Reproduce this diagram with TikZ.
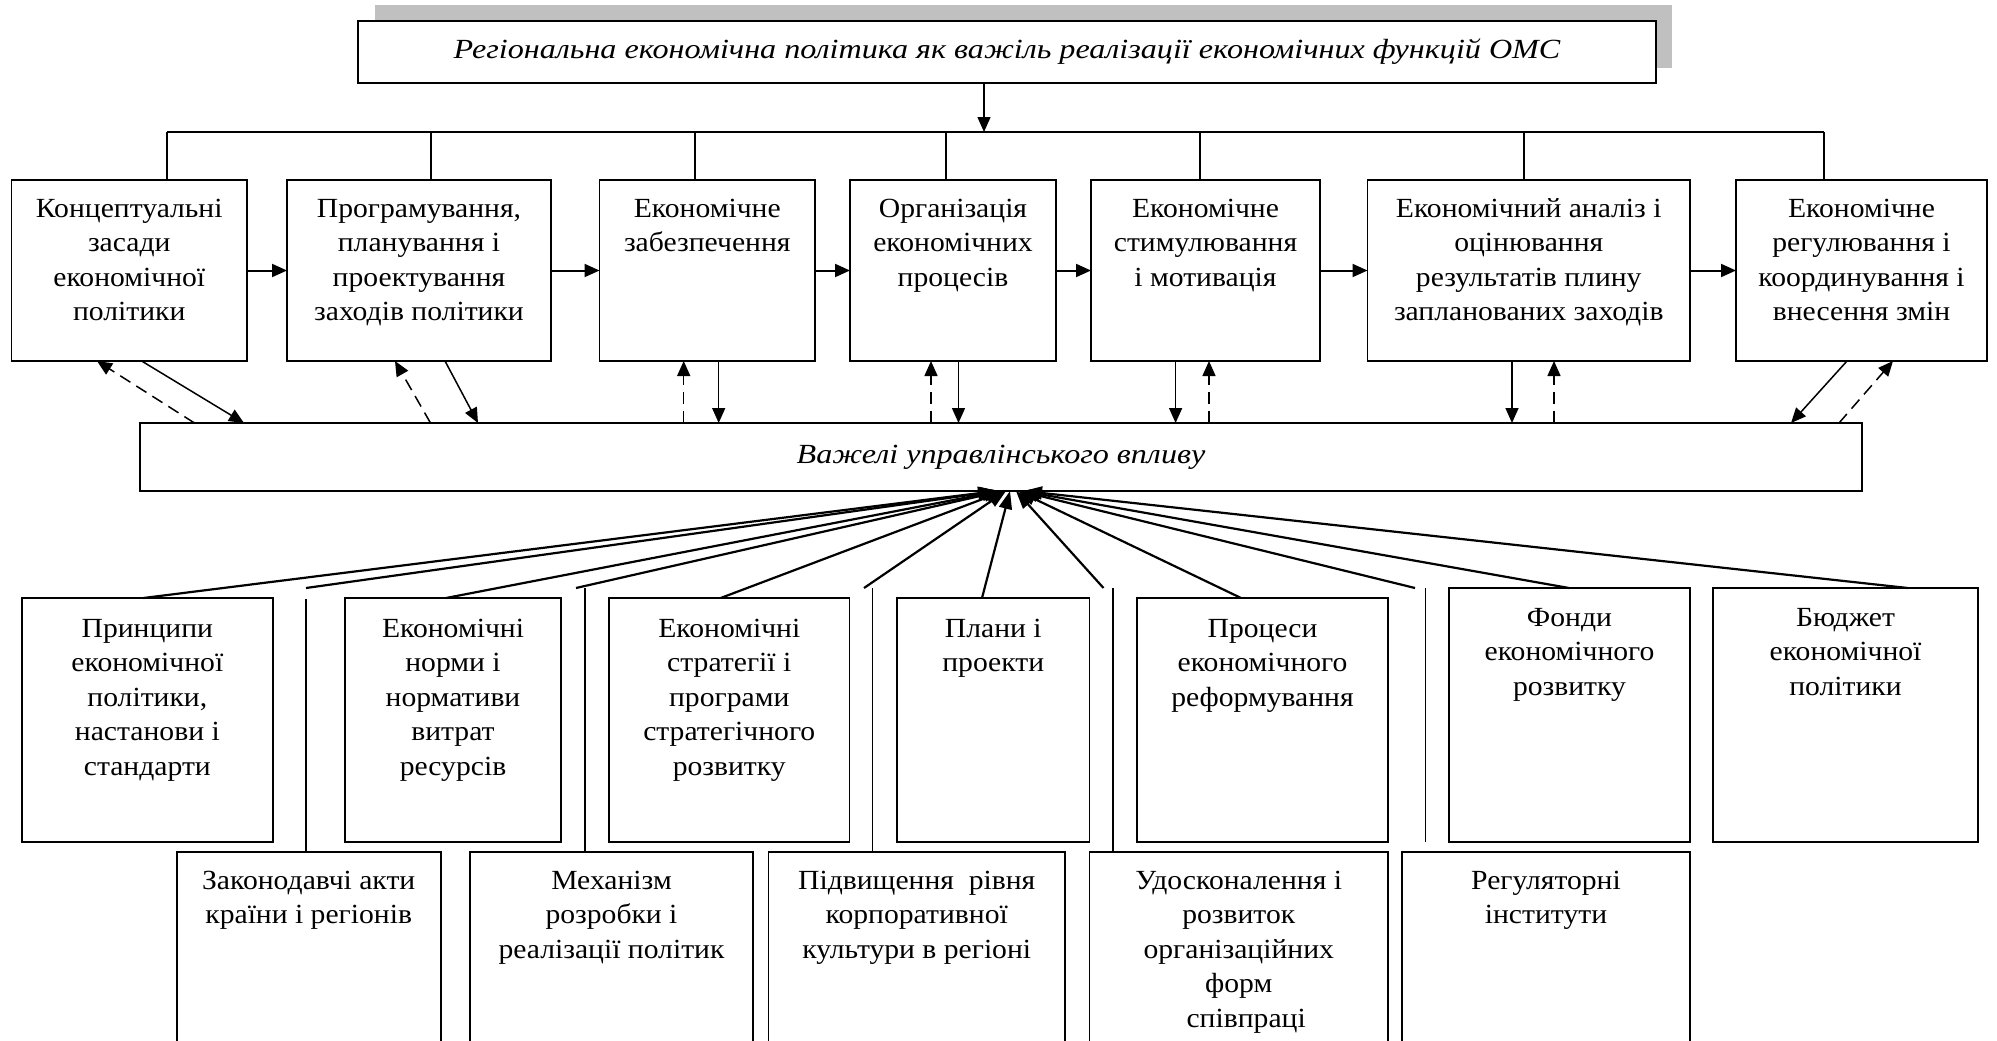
\documentclass[tikz,border=0pt]{standalone}
\usepackage{fontspec}
\setmainfont{Liberation Serif}[FakeStretch=1.07]
\newfontfamily\slantfont{Liberation Serif}[FakeStretch=1.16]
\usetikzlibrary{arrows.meta}

\definecolor{shadowgray}{RGB}{192,192,192}
\newcommand{\boxfont}{\fontsize{27.7}{34.5}\selectfont}
\newcommand{\celltext}[1]{\begin{tabular}[t]{@{}c@{}}#1\end{tabular}}

\tikzset{
  box/.style={draw, line width=1.6pt, inner sep=0pt, outer sep=0pt, anchor=north west, fill=white},
  txt/.style={anchor=base, inner sep=0pt, font=\boxfont},
  itxt/.style={font=\boxfont\slantfont\itshape},
  link/.style={line width=1.2pt},
  tip/.style={-{Triangle[length=15pt,width=13pt]}},
  arr/.style={line width=1.5pt, tip},
  darr/.style={line width=1.5pt, dash pattern=on 12pt off 7pt, tip},
  harr/.style={line width=2pt, tip},
  ray/.style={line width=2.2pt, -{Triangle[length=18pt,width=13pt]}},
}

\begin{document}
\begin{tikzpicture}[x=1pt, y=-1pt]
\useasboundingbox (0,0) rectangle (1997,1041);
\clip (0,0) rectangle (1997,1041);

% ---------- title with offset shadow ----------
\fill[shadowgray] (375,5) rectangle (1672,68);
\node[box, itxt, minimum width=1298pt, minimum height=62pt] (title) at (358,21)
  {Регіональна економічна політика як важіль реалізації економічних функцій ОМС};

% ---------- distribution bus ----------
\coordinate (busL) at (167,132);
\coordinate (busR) at (1824,132);
\coordinate (busT) at (984,132);
\draw[link] (busL) -- (busR);
\draw[arr] (title.south -| busT) -- (busT);

% ---------- row 1: functions ----------
\node[box, minimum width=235.5pt, minimum height=181pt] (b1) at (11.5,180) {};
\node[box, minimum width=264pt,   minimum height=181pt] (b2) at (287,180) {};
\node[box, minimum width=215.5pt, minimum height=181pt] (b3) at (599.5,180) {};
\node[box, minimum width=206pt,   minimum height=181pt] (b4) at (850,180) {};
\node[box, minimum width=229pt,   minimum height=181pt] (b5) at (1091,180) {};
\node[box, minimum width=322.5pt, minimum height=181pt] (b6) at (1367.5,180) {};
\node[box, minimum width=251pt,   minimum height=181pt] (b7) at (1736,180) {};

\node[txt] (b1t) at ([yshift=-37pt]b1.north) {\celltext{Концептуальні\\засади\\економічної\\політики}};
\node[txt] (b2t) at ([yshift=-37pt]b2.north) {\celltext{Програмування,\\планування і\\проектування\\заходів політики}};
\node[txt] (b3t) at ([yshift=-37pt]b3.north) {\celltext{Економічне\\забезпечення}};
\node[txt] (b4t) at ([yshift=-37pt]b4.north) {\celltext{Організація\\економічних\\процесів}};
\node[txt] (b5t) at ([yshift=-37pt]b5.north) {\celltext{Економічне\\стимулювання\\і мотивація}};
\node[txt] (b6t) at ([yshift=-37pt]b6.north) {\celltext{Економічний аналіз і\\оцінювання\\результатів плину\\запланованих заходів}};
\node[txt] (b7t) at ([yshift=-37pt]b7.north) {\celltext{Економічне\\регулювання і\\координування і\\внесення змін}};

% stubs from the bus
\foreach \n/\sx in {b1/167, b2/431, b3/695, b4/946, b5/1200, b6/1524, b7/1824}{
  \coordinate (s-\n) at (\sx,132);
  \draw[link] (s-\n) -- (s-\n |- \n.north);
}

% sequence arrows
\draw[harr] (b1.east) -- (b2.west);
\draw[harr] (b2.east) -- (b3.west);
\draw[harr] (b3.east) -- (b4.west);
\draw[harr] (b4.east) -- (b5.west);
\draw[harr] (b5.east) -- (b6.west);
\draw[harr] (b6.east) -- (b7.west);

% ---------- levers ----------
\node[box, itxt, minimum width=1722pt, minimum height=68pt] (lev) at (140,423)
  {Важелі управлінського впливу};

% links between functions and levers
\draw[darr] ([xshift=54.5pt]lev.north west) -- ([xshift=85.5pt]b1.south west);
\draw[arr]  ([xshift=130.1pt]b1.south west) -- ([xshift=104pt]lev.north west);
\draw[darr] ([xshift=290.5pt]lev.north west) -- ([xshift=108pt]b2.south west);
\draw[arr]  ([xshift=158pt]b2.south west) -- ([xshift=338pt]lev.north west);

\coordinate (d3) at ([xshift=84.2pt]b3.south west);
\coordinate (u3) at ([xshift=119.2pt]b3.south west);
\draw[darr] (d3 |- lev.north) -- (d3);
\draw[arr]  (u3) -- (u3 |- lev.north);

\coordinate (d4) at ([xshift=81pt]b4.south west);
\coordinate (u4) at ([xshift=108.5pt]b4.south west);
\draw[darr] (d4 |- lev.north) -- (d4);
\draw[arr]  (u4) -- (u4 |- lev.north);

\coordinate (u5) at ([xshift=84.6pt]b5.south west);
\coordinate (d5) at ([xshift=118pt]b5.south west);
\draw[arr]  (u5) -- (u5 |- lev.north);
\draw[darr] (d5 |- lev.north) -- (d5);

\coordinate (u6) at ([xshift=144.5pt]b6.south west);
\coordinate (d6) at ([xshift=186.5pt]b6.south west);
\draw[arr]  (u6) -- (u6 |- lev.north);
\draw[darr] (d6 |- lev.north) -- (d6);

\draw[arr]  ([xshift=111pt]b7.south west) -- ([xshift=1651pt]lev.north west);
\draw[darr] ([xshift=1699pt]lev.north west) -- ([xshift=157pt]b7.south west);

% ---------- row 2: instruments ----------
\node[box, minimum width=251.3pt, minimum height=244pt] (p1) at (21.7,598) {};
\node[box, minimum width=216pt,   minimum height=244pt] (p2) at (345,598) {};
\node[box, minimum width=240.5pt, minimum height=244pt] (p3) at (609,598) {};
\node[box, minimum width=192.5pt, minimum height=244pt] (p4) at (897,598) {};
\node[box, minimum width=251pt,   minimum height=244pt] (p5) at (1137,598) {};
\node[box, minimum width=241pt,   minimum height=254pt] (p6) at (1449,588) {};
\node[box, minimum width=265pt,   minimum height=254pt] (p7) at (1713,588) {};

\node[txt] (p1t) at ([yshift=-39pt]p1.north) {\celltext{Принципи\\економічної\\політики,\\настанови і\\стандарти}};
\node[txt] (p2t) at ([yshift=-39pt]p2.north) {\celltext{Економічні\\норми і\\нормативи\\витрат\\ресурсів}};
\node[txt] (p3t) at ([yshift=-39pt]p3.north) {\celltext{Економічні\\стратегії і\\програми\\стратегічного\\розвитку}};
\node[txt] (p4t) at ([yshift=-39pt]p4.north) {\celltext{Плани і\\проекти}};
\node[txt] (p5t) at ([yshift=-39pt]p5.north) {\celltext{Процеси\\економічного\\реформування}};
\node[txt] (p6t) at ([yshift=-38pt]p6.north) {\celltext{Фонди\\економічного\\розвитку}};
\node[txt] (p7t) at ([yshift=-38pt]p7.north) {\celltext{Бюджет\\економічної\\політики}};

% ---------- row 3: instruments (lower) ----------
\node[box, minimum width=264pt,   minimum height=230pt] (q1) at (176.7,852) {};
\node[box, minimum width=283pt,   minimum height=230pt] (q2) at (470,852) {};
\node[box, minimum width=296.5pt, minimum height=230pt] (q3) at (768.5,852) {};
\node[box, minimum width=298.5pt, minimum height=230pt] (q4) at (1089.5,852) {};
\node[box, minimum width=288pt,   minimum height=230pt] (q5) at (1402,852) {};

\node[txt] (q1t) at ([yshift=-37pt]q1.north) {\celltext{Законодавчі акти\\країни і регіонів}};
\node[txt] (q2t) at ([yshift=-37pt]q2.north) {\celltext{Механізм\\розробки і\\реалізації політик}};
\node[txt] (q3t) at ([yshift=-37pt]q3.north) {\celltext{Підвищення\ \ рівня\\корпоративної\\культури в регіоні}};
\node[txt] (q4t) at ([yshift=-37pt]q4.north) {\celltext{Удосконалення і\\розвиток\\організаційних\\форм\\\ \ співпраці}};
\node[txt] (q5t) at ([yshift=-37pt]q5.north) {\celltext{Регуляторні\\інститути}};

% risers of the lower row
\coordinate (j1) at (306,599);    \coordinate (k1) at (306,588);
\coordinate (j2) at (585,588);    \coordinate (k2) at (576,588);
\coordinate (j3) at (872.5,588);  \coordinate (k3) at (864,588);
\coordinate (j4) at (1113,588);   \coordinate (k4) at (1103.5,588);
\coordinate (j5) at (1425.6,588); \coordinate (k5) at (1415,588);
\draw[link] (j1 |- q1.north) -- (j1);
\draw[link] (j2 |- q2.north) -- (j2);
\draw[link] (j3 |- q3.north) -- (j3);
\draw[link] (j4 |- q4.north) -- (j4);
\draw[link] ([yshift=10pt]j5 |- q5.north) -- (j5);

% rays converging on the levers
\draw[ray] ([xshift=121.8pt]p1.north west) -- ([xshift=856pt]lev.south west);
\draw[ray] (k1) -- ([xshift=858pt]lev.south west);
\draw[ray] ([xshift=101pt]p2.north west) -- ([xshift=860pt]lev.south west);
\draw[ray] (k2) -- ([xshift=862pt]lev.south west);
\draw[ray] ([xshift=111.7pt]p3.north west) -- ([xshift=864pt]lev.south west);
\draw[ray] (k3) -- ([xshift=866pt]lev.south west);
\draw[ray] ([xshift=85pt]p4.north west) -- ([xshift=870pt]lev.south west);
\draw[ray] (k4) -- ([xshift=876pt]lev.south west);
\draw[ray] ([xshift=104pt]p5.north west) -- ([xshift=878pt]lev.south west);
\draw[ray] (k5) -- ([xshift=880pt]lev.south west);
\draw[ray] ([xshift=120pt]p6.north west) -- ([xshift=882pt]lev.south west);
\draw[ray] ([xshift=194.7pt]p7.north west) -- ([xshift=884pt]lev.south west);
\end{tikzpicture}
\end{document}
